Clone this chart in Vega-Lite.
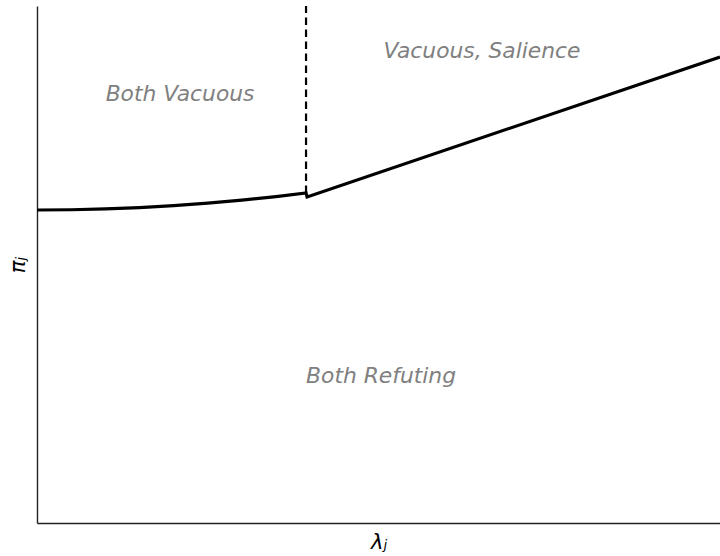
{
  "$schema": "https://vega.github.io/schema/vega-lite/v6.json",
  "autosize": "none",
  "padding": {"left": 37, "top": 6, "right": 0, "bottom": 33},
  "width": 683,
  "height": 517,
  "config": {
    "view": {"stroke": null},
    "axis": {"grid": false, "ticks": false, "labels": false, "domainColor": "#222222", "domainWidth": 1.4, "titleFont": "DejaVu Sans", "titleFontSize": 21, "titleFontWeight": "normal", "titleFontStyle": "italic", "titleColor": "#000000"}
  },
  "datasets": {
    "curve": [
      {"i": 0, "x": 0.0, "y": 0.6054},
      {"i": 1, "x": 0.05, "y": 0.6059},
      {"i": 2, "x": 0.1, "y": 0.6075},
      {"i": 3, "x": 0.15, "y": 0.6102},
      {"i": 4, "x": 0.2, "y": 0.6139},
      {"i": 5, "x": 0.25, "y": 0.6186},
      {"i": 6, "x": 0.3, "y": 0.6245},
      {"i": 7, "x": 0.35, "y": 0.6314},
      {"i": 8, "x": 0.3939, "y": 0.6383},
      {"i": 9, "x": 0.3954, "y": 0.6306},
      {"i": 10, "x": 1.0, "y": 0.9014}
    ],
    "dash": [{"x": 0.3939, "y": 0.6383, "y2": 1.0}],
    "labels": [
      {"x": 0.2094, "y": 0.8298, "label": "Both Vacuous"},
      {"x": 0.6515, "y": 0.913, "label": "Vacuous, Salience"},
      {"x": 0.5037, "y": 0.2843, "label": "Both Refuting"}
    ]
  },
  "layer": [
    {
      "data": {"name": "curve"},
      "mark": {"type": "line", "color": "#000000", "strokeWidth": 3.2, "clip": false},
      "encoding": {
        "x": {"field": "x", "type": "quantitative", "scale": {"domain": [0, 1], "nice": false, "zero": false}, "axis": {"title": "λⱼ", "titlePadding": 8, "orient": "bottom"}},
        "y": {"field": "y", "type": "quantitative", "scale": {"domain": [0, 1], "nice": false, "zero": false}, "axis": {"title": "πⱼ", "titlePadding": 9, "orient": "left"}},
        "order": {"field": "i", "type": "quantitative"}
      }
    },
    {
      "data": {"name": "dash"},
      "mark": {"type": "rule", "color": "#000000", "strokeWidth": 2.2, "strokeDash": [7.5, 4.5]},
      "encoding": {
        "x": {"field": "x", "type": "quantitative"},
        "y": {"field": "y", "type": "quantitative"},
        "y2": {"field": "y2"}
      }
    },
    {
      "data": {"name": "labels"},
      "mark": {"type": "text", "font": "DejaVu Sans", "fontSize": 21.8, "fontStyle": "italic", "color": "#808080", "align": "center", "baseline": "middle"},
      "encoding": {
        "x": {"field": "x", "type": "quantitative"},
        "y": {"field": "y", "type": "quantitative"},
        "text": {"field": "label"}
      }
    }
  ]
}
